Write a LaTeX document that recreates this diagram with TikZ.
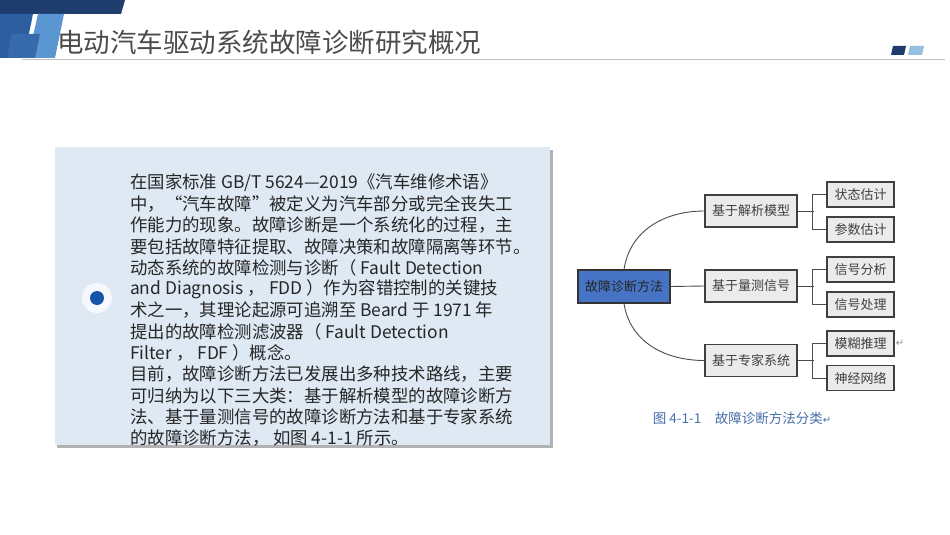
\documentclass[tikz,border=0pt]{standalone}
\usepackage{fontspec}
\setmainfont{Noto Sans CJK SC}
\newfontfamily\cjk{Noto Sans CJK SC}
\newfontfamily\dejavu{DejaVu Sans}
\definecolor{navy}{RGB}{30,60,110}
\definecolor{midblue}{RGB}{45,95,160}
\definecolor{lightblue}{RGB}{90,150,210}
\definecolor{boxfill}{RGB}{222,233,244}
\definecolor{dotblue}{RGB}{20,85,170}
\definecolor{rootfill}{RGB}{70,115,195}
\definecolor{capblue}{RGB}{70,110,170}
\definecolor{sqlight}{RGB}{150,190,225}
\begin{document}
\begin{tikzpicture}[x=1pt,y=-1pt,
  line/.style={font=\cjk\fontsize{17.4}{19}\selectfont,anchor=west,inner sep=0pt,text=black!85},
  mid/.style={draw=black!75,line width=1.2pt,fill=black!8,minimum width=92pt,minimum height=32pt,inner sep=0pt,font=\cjk\fontsize{13}{14}\selectfont,text=black!75},
  leaf/.style={draw=black!75,line width=1.2pt,fill=black!8,minimum width=67pt,minimum height=25pt,inner sep=0pt,font=\cjk\fontsize{13}{14}\selectfont,text=black!75},
  conn/.style={draw=black!70,line width=0.9pt}]
\useasboundingbox (0,0) rectangle (950,535);
\fill[white] (0,0) rectangle (950,535);
% header
\fill[navy] (0,0) -- (125,0) -- (121,14) -- (0,14) -- cycle;
\fill[midblue] (0,14) -- (33,14) -- (24,58) -- (0,58) -- cycle;
\fill[lightblue] (38,14) -- (64,14) -- (55,58) -- (28,58) -- cycle;
\fill[midblue!80!lightblue] (12,34) -- (40,34) -- (35,58) -- (7,58) -- cycle;
\draw[white,line width=2pt] (66,14) -- (56,60);
\node[anchor=west,inner sep=0pt,font=\cjk\fontsize{26.5}{28}\selectfont,text=black!70] (title) at (57,42) {电动汽车驱动系统故障诊断研究概况};
\draw[black!25,line width=1pt] (22,59.5) -- (945,59.5);
\fill[navy] (893,46) -- (906,46) -- (904,55) -- (891,55) -- cycle;
\fill[sqlight] (910,46) -- (924,46) -- (922,55) -- (908,55) -- cycle;
% text box
\fill[black!30] (57,150) rectangle (553,448);
\fill[boxfill] (55,147) rectangle (550,445);
\fill[white!70!boxfill] (97,298) circle (15);
\fill[dotblue] (97,298) circle (7);
\node[line] (l1) at (130,182.5) {在国家标准 GB/T 5624—2019《汽车维修术语》};
\node[line] (l2) at (130,203.8) {中，“汽车故障”被定义为汽车部分或完全丧失工};
\node[line] (l3) at (130,225.1) {作能力的现象。故障诊断是一个系统化的过程，主};
\node[line] (l4) at (130,246.4) {要包括故障特征提取、故障决策和故障隔离等环节。};
\node[line] (l5) at (130,267.7) {动态系统的故障检测与诊断（ Fault Detection};
\node[line] (l6) at (130,289.0) {and Diagnosis ， FDD ）作为容错控制的关键技};
\node[line] (l7) at (130,310.3) {术之一，其理论起源可追溯至 Beard  于  1971 年};
\node[line] (l8) at (130,331.6) {提出的故障检测滤波器（ Fault Detection};
\node[line] (l9) at (130,352.9) {Filter ， FDF ）概念。};
\node[line] (l10) at (130,374.2) {目前，故障诊断方法已发展出多种技术路线，主要};
\node[line] (l11) at (130,395.5) {可归纳为以下三大类：基于解析模型的故障诊断方};
\node[line] (l12) at (130,416.8) {法、基于量测信号的故障诊断方法和基于专家系统};
\node[line] (l13) at (130,438.1) {的故障诊断方法， 如图 4-1-1 所示。};
% diagram
\node[draw=black!80,line width=1.2pt,fill=rootfill,minimum width=92pt,minimum height=33pt,inner sep=0pt,font=\cjk\fontsize{13}{14}\selectfont,text=black!85] (root) at (624,286.5) {故障诊断方法};
\node[mid] (m1) at (751,211) {基于解析模型};
\node[mid] (m2) at (751,286) {基于量测信号};
\node[mid] (m3) at (751,360.5) {基于专家系统};
\node[leaf] (a1) at (860.5,194.5) {状态估计};
\node[leaf] (a2) at (860.5,229.5) {参数估计};
\node[leaf] (b1) at (860.5,269.5) {信号分析};
\node[leaf] (b2) at (860.5,304.5) {信号处理};
\node[leaf] (c1) at (860.5,343.5) {模糊推理};
\node[leaf] (c2) at (860.5,378) {神经网络};
\node[anchor=west,inner sep=1pt,font=\dejavu\fontsize{10}{12}\selectfont,text=black!45] (ret) at (c1.east) {↵};
\draw[conn] (root.north) .. controls (630,230) and (665,211) .. (m1.west);
\draw[conn] (root.south) .. controls (630,342) and (665,360.5) .. (m3.west);
\draw[conn] (root.east) -- (m2.west);
\foreach \m/\p/\q in {m1/a1/a2,m2/b1/b2,m3/c1/c2}{
  \draw[conn] (\m.east) -- ++(16,0);
  \draw[conn] (\p.west) -| ([xshift=-14pt]\q.west) -- (\q.west);
}
\node[font=\cjk\fontsize{13.5}{14}\selectfont,text=capblue,inner sep=0pt] (cap) at (742,418) {图 4-1-1\quad 故障诊断方法分类{\dejavu\fontsize{10}{12}\selectfont ↵}};
\end{tikzpicture}
\end{document}
